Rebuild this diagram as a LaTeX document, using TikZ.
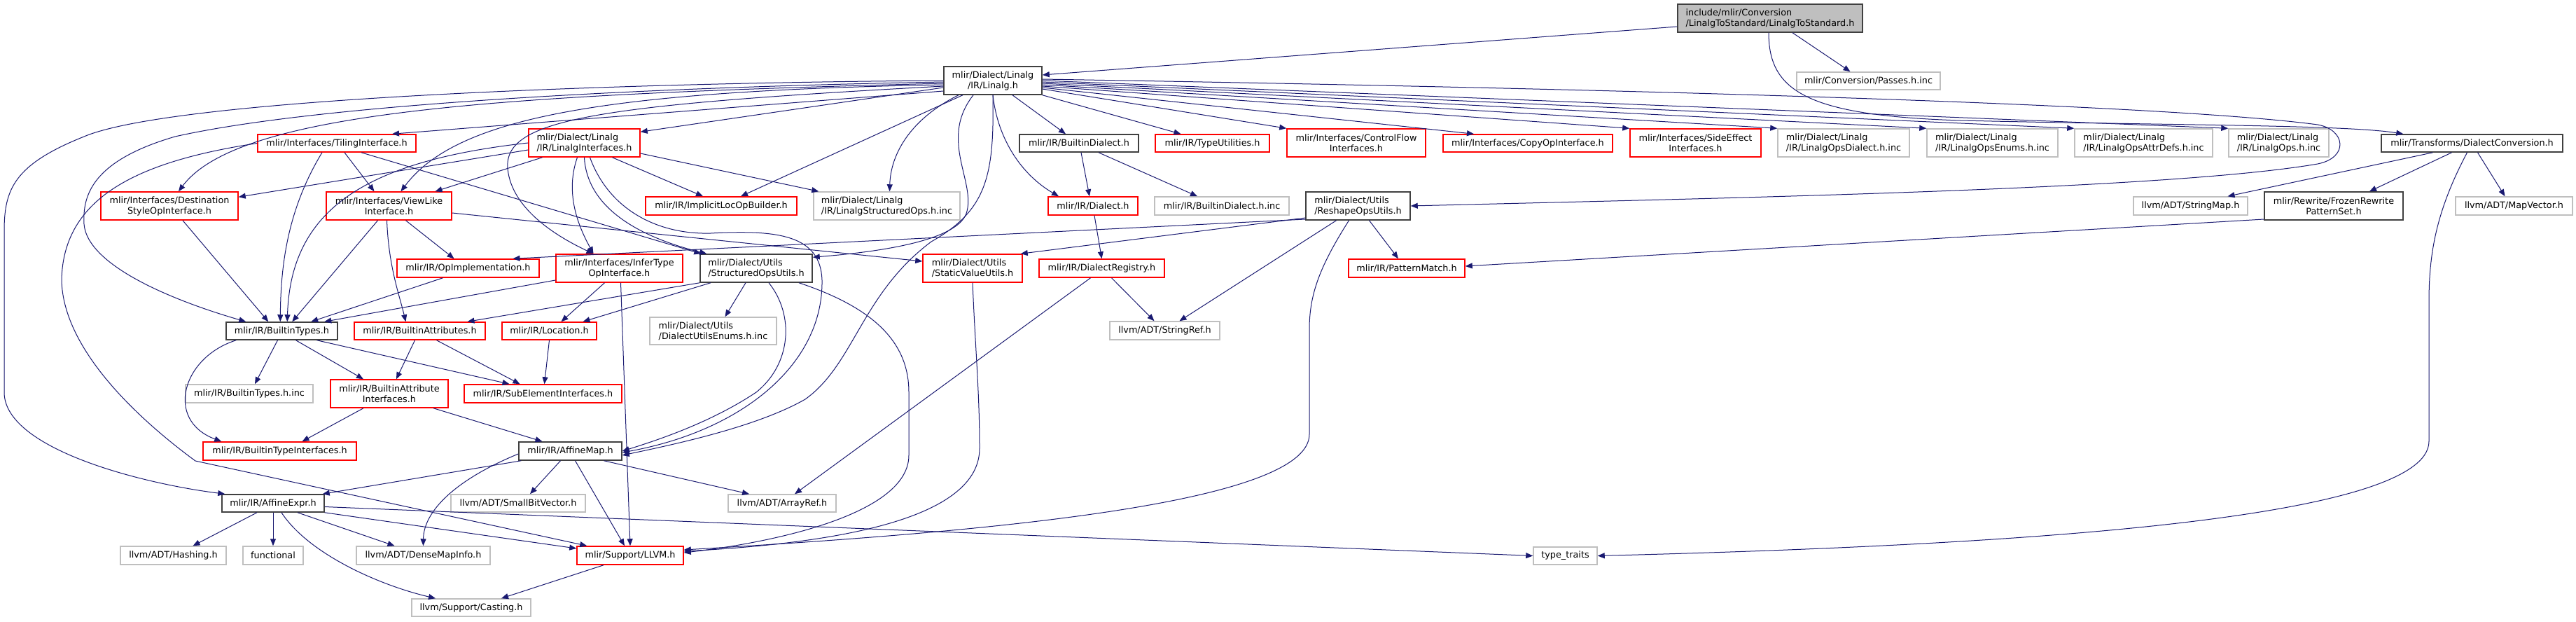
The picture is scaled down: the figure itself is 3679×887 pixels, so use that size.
\documentclass[tikz,border=0pt]{standalone}
\usepackage{fontspec}
\setmainfont{DejaVu Sans}
\usepackage{tikz}
\usetikzlibrary{arrows.meta}
\usetikzlibrary{positioning}

\definecolor{edgeblue}{HTML}{191970}
\definecolor{docgray}{HTML}{404040}
\definecolor{nodocgray}{HTML}{BFBFBF}

\tikzset{
  file/.style={draw, rectangle, inner sep=0pt, fill=white, line width=1.5pt,
    font=\fontsize{12.8}{15}\selectfont},
  wh/.style 2 args={minimum width=#1pt, minimum height=#2pt},
  trunc/.style={file, draw=red},
  doc/.style={file, draw=docgray},
  nodoc/.style={file, draw=nodocgray},
  root/.style={file, draw=docgray, fill=nodocgray},
  dep/.style={draw=edgeblue, line width=1pt, -{Triangle[length=10pt,width=8pt]}}
}

\begin{document}
\begin{tikzpicture}[x=1pt, y=-1pt]
\useasboundingbox (0,0) rectangle (3679,887);

% top row
\node[root, wh={264}{40}, align=left] (top) at (2528,26) {include/mlir/Conversion\\/LinalgToStandard/LinalgToStandard.h};
\node[nodoc, wh={205}{25}] (passes) at (2668.5,115.5) {mlir/Conversion/Passes.h.inc};
\node[doc, wh={140}{40}, align=center] (linalg) at (1418,115) {mlir/Dialect/Linalg\\/IR/Linalg.h};

% first level
\node[trunc, wh={226}{25}] (tiling) at (481,204.5) {mlir/Interfaces/TilingInterface.h};
\node[trunc, wh={159}{40}, align=left] (linalgif) at (834.5,204) {mlir/Dialect/Linalg\\/IR/LinalgInterfaces.h};
\node[doc, wh={170}{25}] (builtindialect) at (1541,204.5) {mlir/IR/BuiltinDialect.h};
\node[trunc, wh={163}{25}] (typeutil) at (1731.5,204.5) {mlir/IR/TypeUtilities.h};
\node[trunc, wh={198}{40}, align=center] (controlflow) at (1937,204) {mlir/Interfaces/ControlFlow\\Interfaces.h};
\node[trunc, wh={242}{25}] (copyop) at (2182,204.5) {mlir/Interfaces/CopyOpInterface.h};
\node[trunc, wh={187}{40}, align=center] (sideeffect) at (2421.5,204) {mlir/Interfaces/SideEffect\\Interfaces.h};
\node[nodoc, wh={188}{40}, align=left] (opsdialectinc) at (2633,204) {mlir/Dialect/Linalg\\/IR/LinalgOpsDialect.h.inc};
\node[nodoc, wh={187}{40}, align=left] (opsenumsinc) at (2845.5,204) {mlir/Dialect/Linalg\\/IR/LinalgOpsEnums.h.inc};
\node[nodoc, wh={197}{40}, align=left] (opsattrinc) at (3061.5,204) {mlir/Dialect/Linalg\\/IR/LinalgOpsAttrDefs.h.inc};
\node[nodoc, wh={143}{40}, align=left] (opsinc) at (3254.5,204) {mlir/Dialect/Linalg\\/IR/LinalgOps.h.inc};
\node[doc, wh={259}{25}] (dialectconv) at (3530.5,204.5) {mlir/Transforms/DialectConversion.h};

% second level
\node[trunc, wh={196}{40}, align=center] (destination) at (242,294) {mlir/Interfaces/Destination\\StyleOpInterface.h};
\node[trunc, wh={179}{40}, align=center] (viewlike) at (555.5,294) {mlir/Interfaces/ViewLike\\Interface.h};
\node[trunc, wh={216}{26}] (implicitloc) at (1030,294) {mlir/IR/ImplicitLocOpBuilder.h};
\node[nodoc, wh={209}{40}, align=left] (structinc) at (1266.5,294) {mlir/Dialect/Linalg\\/IR/LinalgStructuredOps.h.inc};
\node[trunc, wh={128}{26}] (dialect) at (1561,294) {mlir/IR/Dialect.h};
\node[nodoc, wh={192}{26}] (builtindialectinc) at (1745,294) {mlir/IR/BuiltinDialect.h.inc};
\node[doc, wh={149}{40}, align=left] (reshape) at (1939.5,294) {mlir/Dialect/Utils\\/ReshapeOpsUtils.h};
\node[nodoc, wh={163}{26}] (stringmap) at (3128.5,294) {llvm/ADT/StringMap.h};
\node[doc, wh={198}{40}, align=center] (frozen) at (3333,294) {mlir/Rewrite/FrozenRewrite\\PatternSet.h};
\node[nodoc, wh={167}{26}] (mapvector) at (3590.5,294) {llvm/ADT/MapVector.h};

% third level
\node[trunc, wh={203}{26}] (opimpl) at (668.5,383) {mlir/IR/OpImplementation.h};
\node[trunc, wh={181}{40}, align=center] (infertype) at (884.5,383) {mlir/Interfaces/InferType\\OpInterface.h};
\node[doc, wh={160}{40}, align=left] (structutils) at (1080,383) {mlir/Dialect/Utils\\/StructuredOpsUtils.h};
\node[trunc, wh={142}{40}, align=left] (staticvalue) at (1389,383) {mlir/Dialect/Utils\\/StaticValueUtils.h};
\node[trunc, wh={179}{26}] (dialectreg) at (1573.5,383) {mlir/IR/DialectRegistry.h};
\node[trunc, wh={166}{26}] (patternmatch) at (2009,383) {mlir/IR/PatternMatch.h};

% fourth level
\node[doc, wh={159}{25}] (builtintypes) at (402.5,472.5) {mlir/IR/BuiltinTypes.h};
\node[trunc, wh={187}{25}] (builtinattrs) at (599.5,472.5) {mlir/IR/BuiltinAttributes.h};
\node[trunc, wh={135}{25}] (location) at (784.5,472.5) {mlir/IR/Location.h};
\node[nodoc, wh={181}{39}, align=left] (utilsenums) at (1018.5,472.5) {mlir/Dialect/Utils\\/DialectUtilsEnums.h.inc};
\node[nodoc, wh={157}{26}] (stringref) at (1663.5,472) {llvm/ADT/StringRef.h};

% fifth level
\node[nodoc, wh={182}{26}] (builtintypesinc) at (356,562) {mlir/IR/BuiltinTypes.h.inc};
\node[trunc, wh={168}{40}, align=center] (builtinattrif) at (556,562) {mlir/IR/BuiltinAttribute\\Interfaces.h};
\node[trunc, wh={225}{26}] (subelem) at (775.5,562) {mlir/IR/SubElementInterfaces.h};
\node[trunc, wh={219}{26}] (builtintypeif) at (399.5,644) {mlir/IR/BuiltinTypeInterfaces.h};
\node[doc, wh={147}{26}] (affinemap) at (814.5,644) {mlir/IR/AffineMap.h};

% bottom levels
\node[doc, wh={146}{25}] (affineexpr) at (390,718.5) {mlir/IR/AffineExpr.h};
\node[nodoc, wh={192}{25}] (smallbitvector) at (740,718.5) {llvm/ADT/SmallBitVector.h};
\node[nodoc, wh={154}{25}] (arrayref) at (1117,718.5) {llvm/ADT/ArrayRef.h};
\node[nodoc, wh={151}{26}] (hashing) at (247.5,793) {llvm/ADT/Hashing.h};
\node[nodoc, wh={86}{26}] (functional) at (390,793) {functional};
\node[nodoc, wh={191}{26}] (densemap) at (604.5,793) {llvm/ADT/DenseMapInfo.h};
\node[trunc, wh={152}{26}] (llvm) at (900,793) {mlir/Support/LLVM.h};
\node[nodoc, wh={91}{25}] (typetraits) at (2235.5,793.5) {type\_traits};
\node[nodoc, wh={170}{25}] (casting) at (673,867.5) {llvm/Support/Casting.h};

% root includes
\draw[dep] ([yshift=-12pt]top.west) -- ([yshift=8pt]linalg.east);
\draw[dep] ([xshift=32pt]top.south) -- ([xshift=-26pt]passes.north);
\draw[dep] ([xshift=-2pt]top.south) .. controls (2526,130) and (2580,165) .. (2800,172)
  .. controls (3100,179) and (3350,178) .. ([xshift=32pt]dialectconv.north west);

% Linalg.h, to the left
\draw[dep] (linalg.west) .. controls (900,118) and (250,140) .. (120,195)
  .. controls (20,235) and (6,270) .. (6,330) -- (6,560)
  .. controls (6,640) and (200,690) .. ([xshift=5pt]affineexpr.north west);
\draw[dep] ([yshift=-2pt]linalg.west) .. controls (900,125) and (450,150) .. (250,195)
  .. controls (130,230) and (118,280) .. (120,320)
  .. controls (125,380) and (250,430) .. ([xshift=29pt]builtintypes.north west);
\draw[dep] ([yshift=-4pt]linalg.west) .. controls (700,135) and (340,160) .. ([xshift=13pt]destination.north);
\draw[dep] ([yshift=-15pt]linalg.west) -- ([xshift=79pt]tiling.north);
\draw[dep] ([yshift=-6pt]linalg.west) .. controls (850,130) and (650,170) .. ([xshift=17pt]viewlike.north);
\draw[dep] ([yshift=-8pt]linalg.west) .. controls (850,150) and (720,170) .. (725,240)
  .. controls (730,300) and (800,340) .. ([xshift=-37pt]infertype.north);
\draw[dep] ([yshift=-10pt]linalg.west) -- ([yshift=-5pt]linalgif.north east);
\draw[dep] ([xshift=-43pt]linalg.south) -- ([xshift=28pt]implicitloc.north);
\draw[dep] ([xshift=-49pt]linalg.south) .. controls (1300,170) and (1272,220) .. ([xshift=4pt]structinc.north);
\draw[dep] ([xshift=-28pt]linalg.south) .. controls (1340,200) and (1395,260) .. (1380,305)
  .. controls (1365,345) and (1250,360) .. ([yshift=-5pt]structutils.north east);
\draw[dep] (linalg.south) .. controls (1425,200) and (1460,250) .. ([xshift=-49pt]dialect.north);
\draw[dep] (linalg.south) .. controls (1420,250) and (1410,300) .. (1330,345)
  .. controls (1230,420) and (1220,520) .. (1150,570)
  .. controls (1080,610) and (960,635) .. ([yshift=-6pt]affinemap.east);

% Linalg.h, to the right
\draw[dep] ([xshift=28pt]linalg.south) -- ([xshift=-19pt]builtindialect.north);
\draw[dep] (linalg.south east) -- ([xshift=-45pt]typeutil.north);
\draw[dep] ([yshift=-12pt]linalg.east) -- (controlflow.north west);
\draw[dep] ([yshift=-10pt]linalg.east) -- ([xshift=-77pt]copyop.north);
\draw[dep] ([yshift=-8pt]linalg.east) -- (sideeffect.north west);
\draw[dep] ([yshift=-6pt]linalg.east) -- (opsdialectinc.north west);
\draw[dep] ([yshift=-4pt]linalg.east) -- (opsenumsinc.north west);
\draw[dep] ([yshift=-2pt]linalg.east) -- (opsattrinc.north west);
\draw[dep] (linalg.east) -- (opsinc.north west);
\draw[dep] ([yshift=2pt]linalg.east) .. controls (2400,128) and (3100,150) .. (3310,178)
  .. controls (3350,185) and (3355,225) .. (3310,234)
  .. controls (3100,270) and (2500,282) .. (reshape.east);

% TilingInterface.h
\draw[dep] (tiling.west) .. controls (200,230) and (90,280) .. (88,400)
  .. controls (90,500) and (200,600) .. (279,658) -- ([xshift=15pt]llvm.north west);
\draw[dep] ([xshift=-21pt]tiling.south) .. controls (410,300) and (401,380) .. ([xshift=78pt]builtintypes.north west);
\draw[dep] ([xshift=11pt]tiling.south) -- ([xshift=-21pt]viewlike.north);
\draw[dep] ([xshift=35pt]tiling.south) -- ([xshift=2pt]structutils.north west);

% LinalgInterfaces.h
\draw[dep] (linalgif.west) .. controls (520,230) and (415,300) .. ([xshift=88pt]builtintypes.north west);
\draw[dep] ([yshift=-10pt]linalgif.west) -- ([yshift=-8pt]destination.north east);
\draw[dep] ([xshift=-60pt]linalgif.south) -- ([xshift=66pt]viewlike.north);
\draw[dep] ([xshift=-10pt]linalgif.south) .. controls (805,280) and (830,330) .. ([xshift=-37pt]infertype.north);
\draw[dep] (linalgif.south) .. controls (838,290) and (900,335) .. ([xshift=10pt]structutils.north west);
\draw[dep] ([xshift=8pt]linalgif.south) .. controls (870,300) and (940,335) .. (1015,333)
  .. controls (1110,328) and (1172,335) .. (1174,400)
  .. controls (1176,520) and (1060,615) .. ([yshift=-2pt]affinemap.east);
\draw[dep] ([xshift=40pt]linalgif.south) -- ([xshift=-26pt]implicitloc.north);
\draw[dep] ([yshift=-15pt]linalgif.east) -- ([xshift=8pt]structinc.north west);

% second level
\draw[dep] ([xshift=19pt]destination.south) -- ([xshift=61pt]builtintypes.north west);
\draw[dep] ([xshift=-16pt]viewlike.south) -- ([xshift=95pt]builtintypes.north west);
\draw[dep] ([xshift=-3pt]viewlike.south) .. controls (555,380) and (570,420) .. ([xshift=-20pt]builtinattrs.north);
\draw[dep] ([xshift=24pt]viewlike.south) -- ([xshift=-20pt]opimpl.north);
\draw[dep] ([yshift=-10pt]viewlike.east) -- ([yshift=10pt]staticvalue.west);
\draw[dep] ([xshift=3pt]builtindialect.south) -- ([xshift=-5pt]dialect.north);
\draw[dep] ([xshift=28pt]builtindialect.south) -- ([xshift=-35pt]builtindialectinc.north);
\draw[dep] ([xshift=2pt]dialect.south) -- (dialectreg.north);
\draw[dep] ([yshift=-19pt]reshape.west) -- ([xshift=64pt]opimpl.north);
\draw[dep] ([yshift=-17pt]reshape.west) -- ([xshift=-3pt]staticvalue.north east);
\draw[dep] ([xshift=16pt]reshape.south) -- ([xshift=-12pt]patternmatch.north);
\draw[dep] ([xshift=-31pt]reshape.south) -- ([xshift=21pt]stringref.north);
\draw[dep] ([xshift=-13pt]reshape.south) .. controls (1885,380) and (1870,420) .. (1870,470) -- (1870,620)
  .. controls (1870,720) and (1400,760) .. ([yshift=8pt]llvm.east);
\draw[dep] ([xshift=-56pt]dialectconv.south) -- ([xshift=53pt]stringmap.north);
\draw[dep] ([xshift=-29pt]dialectconv.south) -- ([xshift=51pt]frozen.north);
\draw[dep] ([xshift=8pt]dialectconv.south) -- ([xshift=-13pt]mapvector.north);
\draw[dep] ([xshift=-7pt]dialectconv.south) .. controls (3480,300) and (3469,360) .. (3469,430) -- (3469,630)
  .. controls (3469,740) and (2900,778) .. (typetraits.east);
\draw[dep] ([yshift=-19pt]frozen.west) -- ([yshift=3pt]patternmatch.east);

% third level
\draw[dep] ([xshift=-36pt]opimpl.south) -- ([xshift=122pt]builtintypes.north west);
\draw[dep] ([yshift=-17pt]infertype.west) -- ([xshift=141pt]builtintypes.north west);
\draw[dep] ([xshift=-21pt]infertype.south) -- ([xshift=17pt]location.north);
\draw[dep] ([xshift=2pt]infertype.south) -- (llvm.north);
\draw[dep] (structutils.south west) -- ([xshift=68pt]builtinattrs.north);
\draw[dep] ([xshift=-65pt]structutils.south) -- ([xshift=48pt]location.north);
\draw[dep] ([xshift=-15pt]structutils.south) -- ([xshift=17pt]utilsenums.north);
\draw[dep] ([xshift=18pt]structutils.south) .. controls (1135,450) and (1130,520) .. (1080,560)
  .. controls (1020,600) and (950,625) .. (affinemap.east);
\draw[dep] ([xshift=61pt]structutils.south) .. controls (1250,440) and (1298,490) .. (1298,560) -- (1298,650)
  .. controls (1298,735) and (1100,775) .. ([yshift=4pt]llvm.east);
\draw[dep] (staticvalue.south) .. controls (1393,500) and (1399,560) .. (1399,640)
  .. controls (1399,740) and (1200,775) .. ([yshift=6pt]llvm.east);
\draw[dep] ([xshift=-16pt]dialectreg.south) -- ([xshift=18pt]arrayref.north);
\draw[dep] ([xshift=14pt]dialectreg.south) -- ([xshift=-15pt]stringref.north);

% IR core
\draw[dep] ([xshift=-6pt]builtintypes.south) -- ([xshift=8pt]builtintypesinc.north);
\draw[dep] ([xshift=20pt]builtintypes.south) -- ([xshift=-37pt]builtinattrif.north);
\draw[dep] ([xshift=50pt]builtintypes.south) -- ([xshift=-48pt]subelem.north);
\draw[dep] ([xshift=15pt]builtintypes.south west) .. controls (260,510) and (235,600) .. ([xshift=27pt]builtintypeif.north west);
\draw[dep] ([xshift=-7pt]builtinattrs.south) -- ([xshift=10pt]builtinattrif.north);
\draw[dep] ([xshift=24pt]builtinattrs.south) -- ([xshift=-33pt]subelem.north);
\draw[dep] (location.south) -- ([xshift=2pt]subelem.north);
\draw[dep] ([xshift=-37pt]builtinattrif.south) -- ([xshift=32pt]builtintypeif.north);
\draw[dep] ([xshift=63pt]builtinattrif.south) -- ([xshift=-40pt]affinemap.north);
\draw[dep] ([xshift=4pt]affinemap.south west) -- ([xshift=-3pt]affineexpr.north east);
\draw[dep] ([xshift=-14pt]affinemap.south) -- ([xshift=17pt]smallbitvector.north);
\draw[dep] ([xshift=7pt]affinemap.south) -- ([xshift=-8pt]llvm.north);
\draw[dep] ([xshift=48pt]affinemap.south) -- ([xshift=-47pt]arrayref.north);
\draw[dep] ([yshift=-4pt]affinemap.west) .. controls (650,685) and (605,730) .. (densemap.north);
\draw[dep] ([xshift=-23pt]affineexpr.south) -- ([xshift=28pt]hashing.north);
\draw[dep] (affineexpr.south) -- (functional.north);
\draw[dep] ([xshift=35pt]affineexpr.south) -- ([xshift=-41pt]densemap.north);
\draw[dep] (affineexpr.south east) -- ([yshift=10pt]llvm.west);
\draw[dep] ([yshift=-5pt]affineexpr.east) -- (typetraits.west);
\draw[dep] ([xshift=12pt]affineexpr.south) .. controls (440,790) and (540,835) .. ([xshift=-51pt]casting.north);
\draw[dep] ([xshift=-38pt]llvm.south) -- ([xshift=43pt]casting.north);
\end{tikzpicture}
\end{document}
